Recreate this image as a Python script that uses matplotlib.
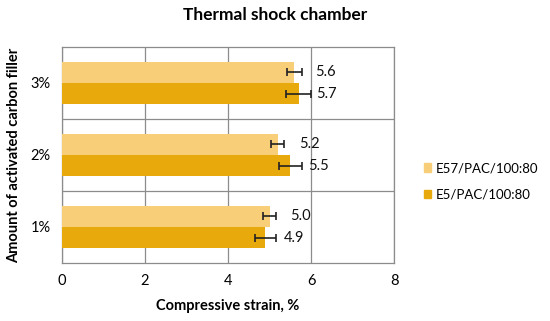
import matplotlib
matplotlib.use("Agg")
import matplotlib.pyplot as plt
import numpy as np
from matplotlib.patches import Patch

categories = ["1%", "2%", "3%"]
series_names = ["E57/PAC/100:80", "E5/PAC/100:80"]
e57_values = [5.0, 5.2, 5.6]
e57_errors = [0.16, 0.16, 0.18]
e5_values = [4.9, 5.5, 5.7]
e5_errors = [0.25, 0.28, 0.30]
labels_e57 = ["5.0", "5.2", "5.6"]
labels_e5 = ["4.9", "5.5", "5.7"]
x_ticks = [0, 2, 4, 6, 8]

plt.rcParams['font.family'] = ['Lato', 'DejaVu Sans']

fig = plt.figure(figsize=(5.5, 3.21), dpi=100)
ax = fig.add_axes([0.1127, 0.1807, 0.6037, 0.6729])

y = np.arange(len(categories))
h = 0.29
off = 0.15
c57 = "#F9CE78"
c5 = "#E8A90C"

ax.barh(y + off, e57_values, height=h, color=c57, zorder=3)
ax.barh(y - off, e5_values, height=h, color=c5, zorder=3)
ax.errorbar(e57_values, y + off, xerr=e57_errors, fmt='none', ecolor='#222222',
            elinewidth=1.2, capsize=3, capthick=1.2, zorder=4)
ax.errorbar(e5_values, y - off, xerr=e5_errors, fmt='none', ecolor='#222222',
            elinewidth=1.2, capsize=3, capthick=1.2, zorder=4)

for yi, v, t in zip(y + off, e57_values, labels_e57):
    ax.annotate(t, (v, yi), xytext=(15, 0), textcoords='offset points',
                va='center', ha='left', fontsize=10.5, color='#111111', zorder=5)
for yi, v, t in zip(y - off, e5_values, labels_e5):
    ax.annotate(t, (v, yi), xytext=(13, 0), textcoords='offset points',
                va='center', ha='left', fontsize=10.5, color='#111111', zorder=5)

ax.set_xlim(0, 8)
ax.set_ylim(-0.5, 2.5)
ax.set_xticks(x_ticks)
ax.set_xticklabels([str(t) for t in x_ticks], fontsize=10.5)
ax.set_yticks(y)
ax.set_yticklabels(categories, fontsize=10.5)
ax.set_yticks([0.5, 1.5], minor=True)
ax.tick_params(axis='both', which='both', length=0, pad=8)
ax.grid(axis='x', which='major', color='#8c8c8c', linewidth=0.9, zorder=0)
ax.grid(axis='y', which='minor', color='#8c8c8c', linewidth=0.9, zorder=0)
for s in ax.spines.values():
    s.set_color('#8c8c8c')
    s.set_linewidth(0.9)

ax.set_xlabel("Compressive strain, %", fontsize=10.5, fontweight='bold', labelpad=8)
ax.set_ylabel("Amount of activated carbon filler", fontsize=10.5, fontweight='bold', labelpad=7)
fig.text(0.5, 0.953, "Thermal shock chamber", ha='center', va='center',
         fontsize=12.5, fontweight='bold')

handles = [Patch(color=c57), Patch(color=c5)]
fig.legend(handles, series_names, loc='center left', bbox_to_anchor=(0.77, 0.435),
           frameon=False, fontsize=9.5, handlelength=0.6, handleheight=0.6,
           handletextpad=0.35, labelspacing=1.1, borderaxespad=0, borderpad=0)

fig.savefig("out.png", dpi=100)
